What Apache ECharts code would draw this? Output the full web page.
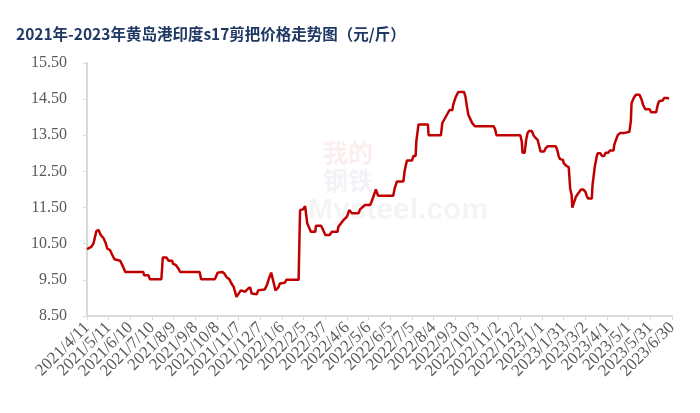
<!DOCTYPE html>
<html>
<head>
<meta charset="utf-8">
<script src="https://cdn.jsdelivr.net/npm/echarts@6/dist/echarts.min.js"></script>
<style>html,body{margin:0;padding:0;background:#fff;}#c{width:700px;height:413px;}</style>
</head>
<body>
<div id="c"></div>
<script>
// Title
const titleText = '2021年-2023年黄岛港印度s17剪把价格走势图（元/斤）';
// X axis: days since 2021/4/11, ticks every 30 days up to 2023/6/30
const startDate = [2021, 4, 11];
const xMin = 0, xMax = 810, xStep = 30;
// Y axis ticks
const yMin = 8.5, yMax = 15.5, yStep = 1;
// Series: day offsets and prices (元/斤)
const dayOffsets = [0,6,9,13,16,19,23,26,28,32,34,38,46,50,53,78,79,85,87,103,105,110,113,118,119,123,126,129,156,158,177,181,187,190,193,197,200,203,205,207,210,213,219,
221,223,226,228,235,237,246,249,252,255,257,259,261,265,267,274,276,293,295,299,302,305,310,316,317,324,326,330,336,339,347,348,355,360,363,367,376,378,385,392,394,400,403,424,426,429,438,440,443,450,452,455,456,458,459,472,473,490,492,497,499,502,506,507,510,512,514,522,524,526,528,530,533,537,563,565,567,600,602,603,606,608,610,612,616,618,620,624,626,628,633,635,638,649,651,653,655,659,660,664,667,669,671,672,674,677,680,684,687,690,692,694,699,700,702,703,706,707,711,713,716,718,722,724,729,730,732,735,738,743,745,751,753,754,757,760,765,768,770,773,779,781,788,790,792,797,799,803,806];
const prices = [10.35,10.41,10.51,10.85,10.88,10.74,10.65,10.51,10.37,10.32,10.23,10.07,10.03,9.86,9.72,9.72,9.63,9.63,9.52,9.52,10.12,10.12,10.03,10.03,9.95,9.91,9.83,9.72,9.72,9.52,9.52,9.70,9.72,9.68,9.58,9.52,9.40,9.31,9.17,9.03,9.12,9.21,9.17,
9.17,9.26,9.29,9.12,9.10,9.21,9.23,9.35,9.54,9.70,9.54,9.49,9.21,9.29,9.40,9.42,9.50,9.50,11.43,11.45,11.54,11.06,10.83,10.83,11.00,11.00,10.92,10.74,10.74,10.83,10.83,10.97,11.15,11.25,11.43,11.34,11.34,11.45,11.57,11.57,11.66,12.00,11.83,11.83,12.03,12.22,12.22,12.54,12.80,12.80,12.93,12.93,13.33,13.37,13.80,13.80,13.50,13.50,13.84,14.02,14.07,14.20,14.20,14.34,14.53,14.57,14.70,14.70,14.57,14.30,14.07,14.02,13.85,13.75,13.75,13.67,13.50,13.50,13.33,13.02,13.02,13.37,13.56,13.62,13.62,13.51,13.45,13.37,13.33,13.05,13.05,13.14,13.20,13.20,13.10,12.93,12.84,12.82,12.73,12.65,12.62,12.03,11.85,11.50,11.54,11.80,11.89,12.00,12.00,11.94,11.82,11.75,11.75,12.13,12.45,12.62,12.93,13.00,13.00,12.93,12.93,13.02,13.02,13.08,13.08,13.23,13.35,13.51,13.56,13.56,13.60,13.60,13.88,14.39,14.53,14.62,14.62,14.48,14.34,14.22,14.22,14.14,14.14,14.32,14.44,14.46,14.53,14.53,14.52];

function dayToLabel(v) {
  const d = new Date(startDate[0], startDate[1] - 1, startDate[2] + Math.round(v));
  return d.getFullYear() + '/' + (d.getMonth() + 1) + '/' + d.getDate();
}
// two overlaid bottom axes: one labels even ticks, the other odd ticks (avoids auto-hiding)
function labelFor(parity) {
  return v => (Math.round((v - xMin) / xStep) % 2 === parity) ? dayToLabel(v) : '';
}

const seriesData = dayOffsets.map((d, i) => [d, prices[i]]);
const chart = echarts.init(document.getElementById('c'), null, {renderer: 'canvas'});
const axisGray = '#d9d9d9';
const labelGray = '#595959';
const xLabelStyle = {
  rotate: 45, margin: 9, color: labelGray,
  fontFamily: '"Liberation Serif"', fontSize: 17,
  showMinLabel: true, showMaxLabel: true, hideOverlap: false
};
chart.setOption({
  animation: false,
  backgroundColor: '#ffffff',
  title: {
    text: titleText,
    left: 11, top: 21,
    textStyle: {fontFamily: '"Noto Sans CJK SC"', fontSize: 15.5, fontWeight: 'bold', color: '#1f3864'}
  },
  grid: {left: 87, right: 28, top: 63, bottom: 97, containLabel: false},
  graphic: [
    {type: 'text', left: 323, top: 140, style: {text: '我的', font: 'bold 25px "Noto Sans CJK SC"', fill: 'rgba(200,40,40,0.08)'}},
    {type: 'text', left: 323, top: 168, style: {text: '钢铁', font: 'bold 25px "Noto Sans CJK SC"', fill: 'rgba(60,80,130,0.07)'}},
    {type: 'text', left: 308, top: 196, style: {text: 'Mysteel.com', font: 'bold 30px "Liberation Sans"', fill: 'rgba(0,0,0,0.045)'}}
  ],
  xAxis: [{
    type: 'value', position: 'bottom',
    min: xMin, max: xMax, interval: xStep,
    axisLine: {show: true, onZero: false, lineStyle: {color: axisGray, width: 2}},
    axisTick: {show: true, length: 4, lineStyle: {color: axisGray, width: 1}},
    splitLine: {show: false},
    axisLabel: Object.assign({}, xLabelStyle, {formatter: labelFor(0)})
  }, {
    type: 'value', position: 'bottom', offset: 0,
    min: xMin, max: xMax, interval: xStep,
    axisLine: {show: false, onZero: false},
    axisTick: {show: false},
    splitLine: {show: false},
    axisLabel: Object.assign({}, xLabelStyle, {formatter: labelFor(1)})
  }],
  yAxis: {
    type: 'value',
    min: yMin, max: yMax, interval: yStep,
    axisLine: {show: true, lineStyle: {color: axisGray, width: 2}},
    axisTick: {show: true, length: 4, lineStyle: {color: axisGray, width: 1}},
    splitLine: {show: false},
    axisLabel: {
      margin: 20, color: labelGray,
      fontFamily: '"Liberation Serif"', fontSize: 16,
      showMinLabel: true, showMaxLabel: true,
      formatter: v => v.toFixed(2)
    }
  },
  series: [{
    type: 'line',
    xAxisIndex: 0,
    data: seriesData,
    showSymbol: false,
    lineStyle: {color: '#c00000', width: 2.5},
    itemStyle: {color: '#c00000'}
  }]
});
</script>
</body>
</html>
